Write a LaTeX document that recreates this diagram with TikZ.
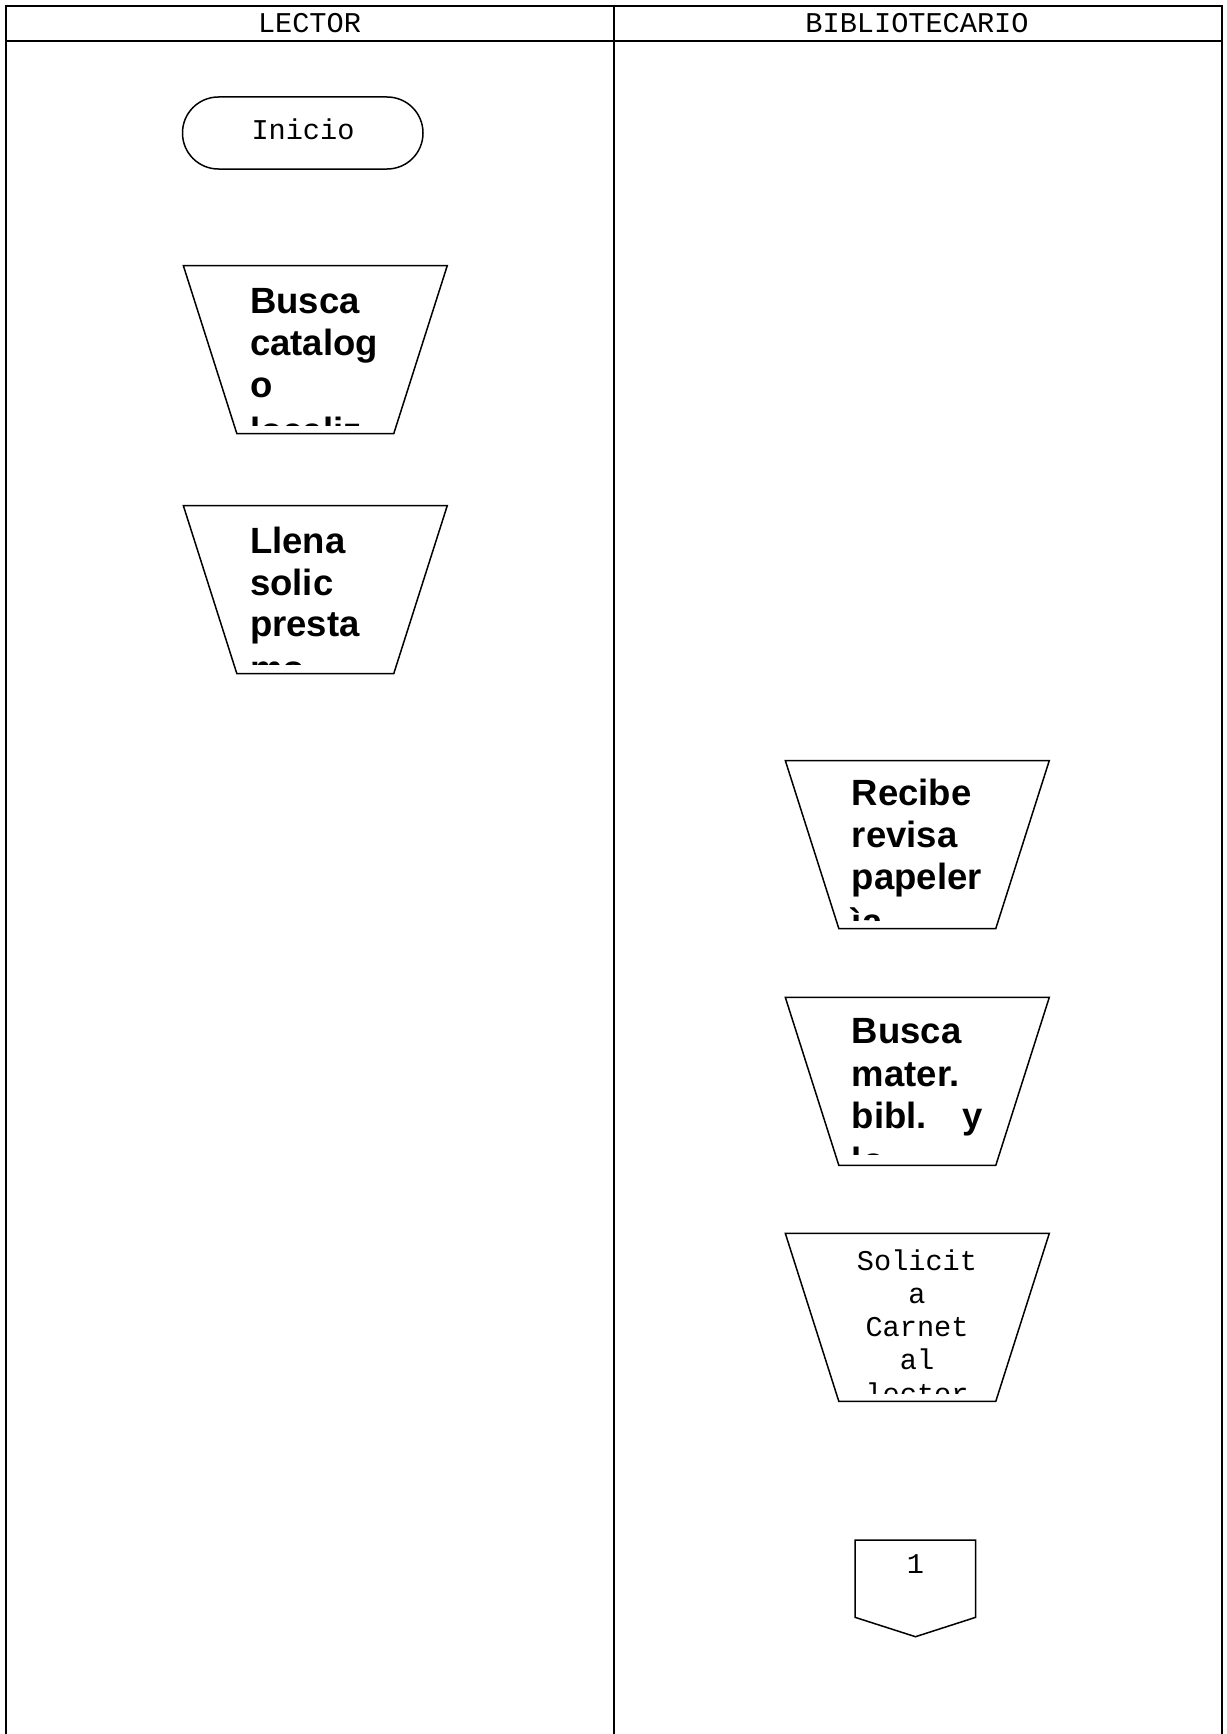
\documentclass[tikz,border=0pt]{standalone}
\usepackage{fontspec}
\setmainfont{Liberation Sans}
\newfontfamily\monofont{Liberation Mono}
\begin{document}
\begin{tikzpicture}[x=1pt,y=-1pt,
  lane/.style={line width=2pt},
  shapeline/.style={line width=1.5pt, line join=miter},
  monotext/.style={inner sep=0pt, font=\monofont\fontsize{28.6}{33}\selectfont},
  boldtext/.style={inner sep=0pt, anchor=base west, font=\fontsize{36.5}{42}\selectfont\bfseries},
  monoline/.style={monotext, anchor=base}
]
\useasboundingbox (0,0) rectangle (1226,1734);
\fill[white] (0,0) rectangle (1226,1734);

% swimlane frame
\draw[lane] (6,1734) -- (6,5.7) -- (1221.7,5.7) -- (1221.7,1734);
\draw[lane] (6,40.7) -- (1221.7,40.7);
\draw[lane] (614,5.7) -- (614,1734);
\node[monotext] (hlector) at (309.5,23.5) {LECTOR};
\node[monotext] (hbiblio) at (917,23.5) {BIBLIOTECARIO};

% start terminal
\draw[shapeline, rounded corners=35.9pt] (182.5,97) rectangle (423,169);
\node[monoline] (inicio) at (303,139.3) {Inicio};

% manual-operation trapezoids: centre x, top y
\newcommand{\manop}[2]{%
  \draw[shapeline] (#1-132,#2) -- (#1+132,#2) -- (#1+78.5,#2+168) -- (#1-78.5,#2+168) -- cycle;}

\manop{315.3}{265.5}
\manop{315.3}{505.5}
\manop{917.3}{760.5}
\manop{917.3}{997.3}
\manop{917.3}{1233.3}

% texts inside the trapezoids, cut off at the lower text margin
\begin{scope}
  \clip (200,270) rectangle (440,425);
  \node[boldtext] (a1) at (250,313.3) {Busca};
  \node[boldtext] (a2) at (250,355.5) {catalog};
  \node[boldtext] (a3) at (250,397.5) {o};
  \node[boldtext] (a4) at (250,443) {localiz};
\end{scope}
\begin{scope}
  \clip (200,510) rectangle (440,664);
  \node[boldtext] (b1) at (250,553.3) {Llena};
  \node[boldtext] (b2) at (250,595) {solic};
  \node[boldtext] (b3) at (250,636.7) {presta};
  \node[boldtext] (b4) at (250,681) {mo};
\end{scope}
\begin{scope}
  \clip (800,765) rectangle (1040,920);
  \node[boldtext] (c1) at (851.7,805) {Recibe};
  \node[boldtext] (c2) at (851.7,847.5) {revisa};
  \node[boldtext] (c3) at (851.7,889.5) {papeler};
  \node[boldtext] (c4) at (851.7,934) {ìa};
\end{scope}
\begin{scope}
  \clip (800,1002) rectangle (1040,1154);
  \node[boldtext] (d1) at (851.7,1043.3) {Busca};
  \node[boldtext] (d2) at (851.7,1086) {mater.};
  \node[boldtext] (d3) at (851.7,1128.3) {bibl.\hspace{36pt}y};
  \node[boldtext] (d4) at (851.7,1173) {lo};
\end{scope}
\begin{scope}
  \clip (800,1238) rectangle (1040,1393);
  \node[monoline] (e1) at (917,1270.7) {Solicit};
  \node[monoline] (e2) at (917,1303.3) {a};
  \node[monoline] (e3) at (917,1336.7) {Carnet};
  \node[monoline] (e4) at (917,1369.3) {al};
  \node[monoline] (e5) at (917,1403) {lector};
\end{scope}

% off-page connector
\draw[shapeline] (855,1540) -- (975.7,1540) -- (975.7,1617.3) -- (915.5,1636.7) -- (855,1617.3) -- cycle;
\node[monoline] (conn1) at (915.5,1573.3) {1};
\end{tikzpicture}
\end{document}
